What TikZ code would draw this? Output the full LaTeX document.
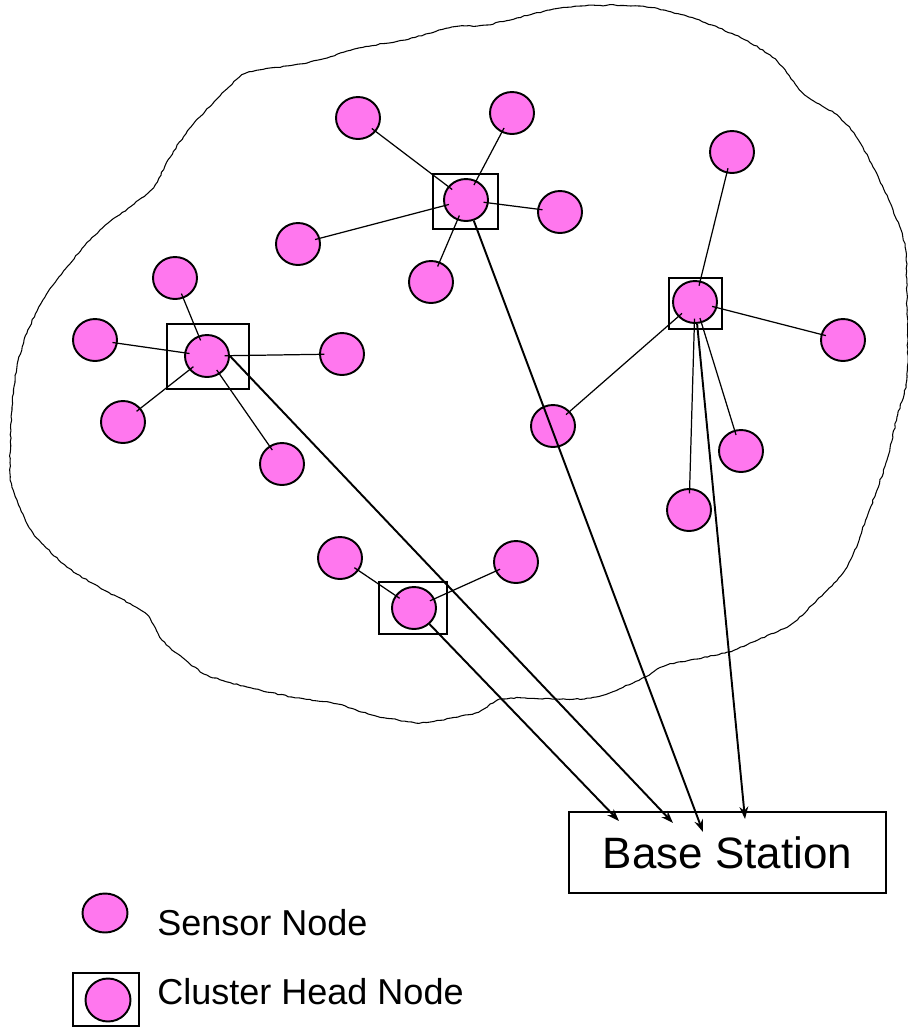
\documentclass[tikz,border=0pt]{standalone}
\usepackage{fontspec}
\setmainfont{Liberation Sans}
\usetikzlibrary{shapes.geometric, arrows.meta, decorations.pathmorphing}

\definecolor{pinky}{RGB}{255,119,238}
\tikzset{
    sensor/.style={ellipse, draw, line width=1.1pt, fill=pinky, inner sep=0pt,
        minimum width=0.88cm, minimum height=0.84cm},
    headbox/.style={line width=1.2pt},
    link/.style={line width=0.7pt, shorten <=-3pt, shorten >=-3pt},
    uplink/.style={line width=1.1pt, -{Stealth[length=7pt, width=5pt]}},
    legendtext/.style={anchor=base west, inner sep=0pt, font=\fontsize{20.5}{24}\selectfont}
}

\begin{document}
\begin{tikzpicture}[x=0.02cm, y=-0.02cm]
        \useasboundingbox (0,0) rectangle (907,1028);
        \pgfmathsetseed{7}
        \draw[line width=0.6pt, decorate, decoration={random steps, segment length=2pt, amplitude=0.35pt}]
            plot[smooth cycle, tension=0.5] coordinates {
            (582,6) (640,6) (689,17) (735,35) (770,55) (787,73) (805,95) (834,113) (854,133)
            (873,167) (893,210) (905,247) (907,300) (907,377) (897,417) (887,460) (867,517)
            (847,567) (817,600) (790,625) (750,643) (725,653) (667,665) (645,677) (591,698)
            (511,698) (493,703) (475,713) (430,722) (412,722) (372,715) (337,704) (292,697)
            (247,687) (207,675) (183,658) (162,640) (145,613) (104,590) (67,567) (33,533)
            (17,500) (10,473) (12,407) (17,367) (27,333) (43,300) (67,267) (100,230)
            (151,190) (168,160) (191,127) (229,87) (249,72) (307,63) (359,48) (405,40)
            (452,27) (486,25) (550,10)};
        \draw[headbox] (433,174) rectangle (498,229);
        \draw[headbox] (167,324) rectangle (249,389);
        \draw[headbox] (669,278) rectangle (722,329);
        \draw[headbox] (379,582) rectangle (447,634);
        \draw[headbox] (73,973) rectangle (139,1026);
        \node[sensor] (h1) at (466,200) {};
        \node[sensor] (h2) at (207,356) {};
        \node[sensor] (h3) at (695,302) {};
        \node[sensor] (h4) at (414,608) {};
        \node[sensor] (s1) at (358,118) {};
        \node[sensor] (s2) at (512,113) {};
        \node[sensor] (s3) at (560,212) {};
        \node[sensor] (s4) at (298,244) {};
        \node[sensor] (s5) at (431,282) {};
        \node[sensor] (s6) at (175,278) {};
        \node[sensor] (s7) at (95,340) {};
        \node[sensor] (s8) at (342,354) {};
        \node[sensor] (s9) at (123,422) {};
        \node[sensor] (s10) at (282,464) {};
        \node[sensor] (s11) at (732,152) {};
        \node[sensor] (s12) at (843,340) {};
        \node[sensor] (s13) at (741,451) {};
        \node[sensor] (s14) at (689,510) {};
        \node[sensor] (s15) at (553,426) {};
        \node[sensor] (s16) at (340,558) {};
        \node[sensor] (s17) at (516,562) {};
        \foreach \s in {s1,s2,s3,s4,s5} \draw[link] (\s) -- (h1);
        \foreach \s in {s6,s7,s8,s9,s10} \draw[link] (\s) -- (h2);
        \foreach \s in {s11,s12,s13,s14,s15} \draw[link] (\s) -- (h3);
        \foreach \s in {s16,s17} \draw[link] (\s) -- (h4);
        \node[draw, line width=1pt, minimum width=6.34cm, minimum height=1.62cm,
            font=\fontsize{25}{30}\selectfont] (b) at (727.5,852.5) {Base Station};
        \coordinate (t1) at (619,821);
        \coordinate (t2) at (673,823);
        \coordinate (t3) at (703,832);
        \coordinate (t4) at (745,819);
        \draw[uplink] (h4) -- (t1);
        \draw[uplink] (h2.east) -- (t2);
        \draw[uplink] (h1) -- (t3);
        \draw[uplink] (h3) -- (t4);
        \node[sensor, minimum width=0.9cm, minimum height=0.78cm] (ls) at (105,913) {};
        \node[sensor, minimum width=0.9cm, minimum height=0.86cm] (lh) at (108,1000) {};
        \node[legendtext] (lst) at (157,935) {Sensor Node};
        \node[legendtext] (lht) at (157,1004) {Cluster Head Node};
    \end{tikzpicture}
\end{document}
